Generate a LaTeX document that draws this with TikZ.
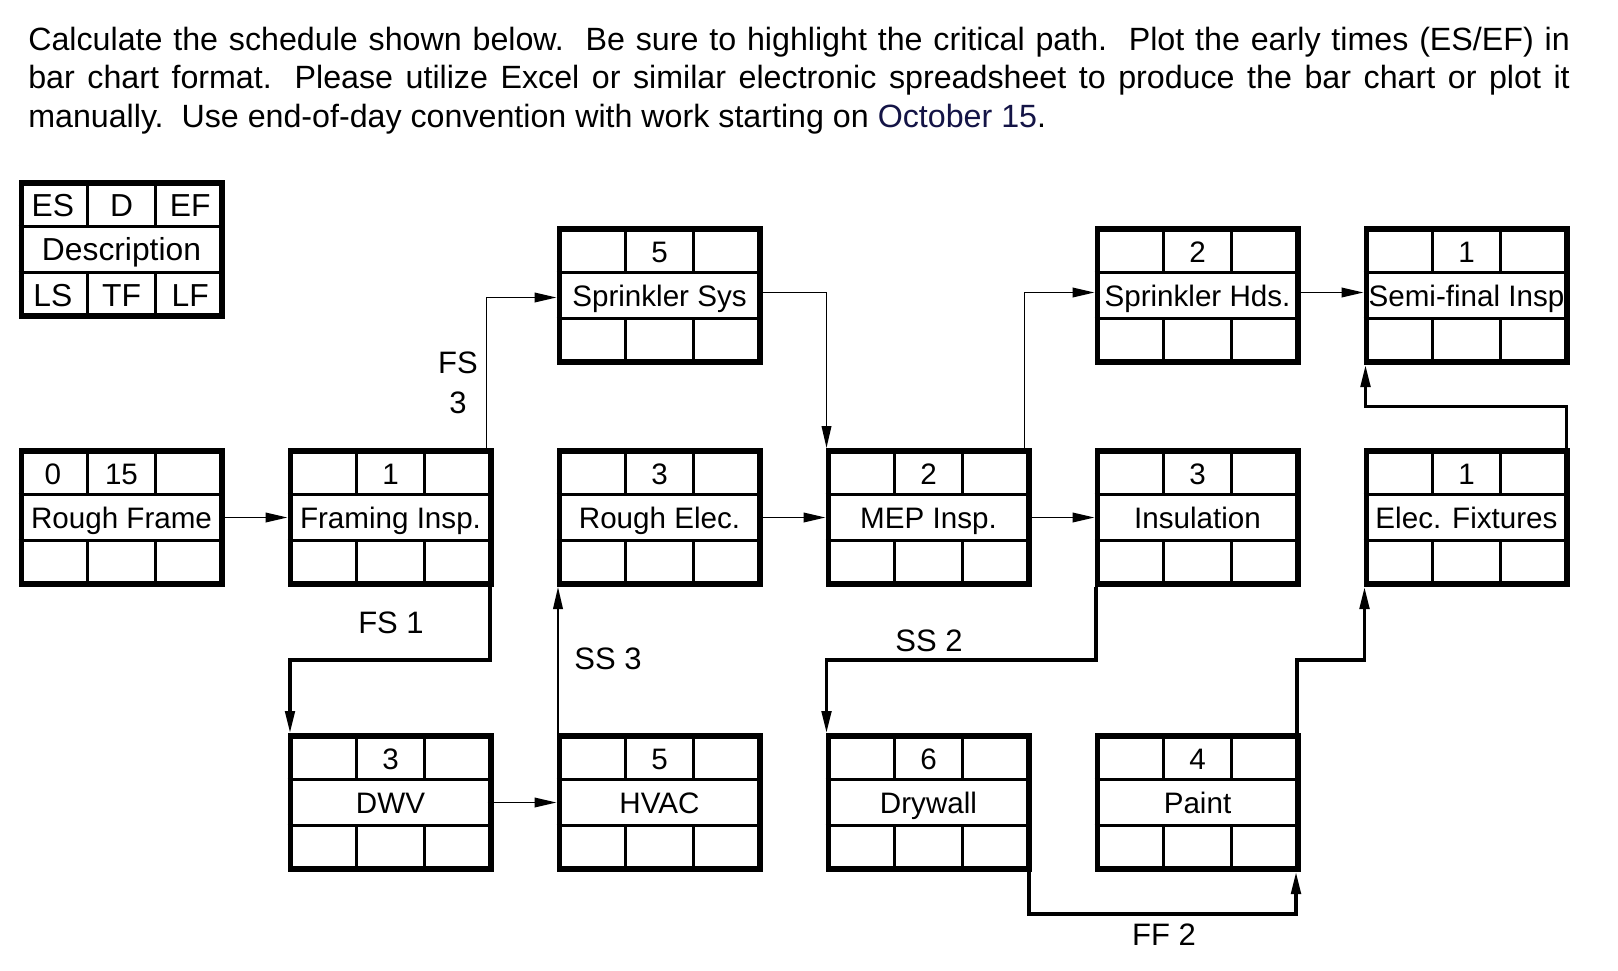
\documentclass[tikz,border=0pt]{standalone}
\usepackage{fontspec}
\setmainfont{Liberation Sans}
\usetikzlibrary{arrows.meta,calc}
\definecolor{navytext}{RGB}{20,20,70}
\tikzset{
  boxframe/.style={draw, line width=2.85pt, minimum width=100.15pt, minimum height=66.65pt, inner sep=0pt, outer sep=1.425pt},
  cellline/.style={line width=1.35pt},
  celltext/.style={anchor=base, inner sep=0pt, font=\fontsize{14.8pt}{16pt}\selectfont},
  legtext/.style={anchor=base, inner sep=0pt, font=\fontsize{15.9pt}{17pt}\selectfont},
  lbl/.style={anchor=center, inner sep=0pt, font=\fontsize{15.5pt}{17pt}\selectfont},
  hdr/.style={anchor=base west, inner sep=0pt, font=\fontsize{16.1pt}{19pt}\selectfont},
  tip/.style={-{Triangle[length=11pt,width=4.8pt]}},
  conn/.style={line width=0.9pt, tip},
  connthick/.style={line width=1.6pt, tip},
}
\newcommand\actgrid[3]{%
  \begin{scope}[shift={(#2,#3)}]
    \draw[cellline] (0,46.33) -- (206,46.33) (0,92.67) -- (206,92.67)
      (68.67,0) -- (68.67,46.33) (137.33,0) -- (137.33,46.33)
      (68.67,92.67) -- (68.67,139) (137.33,92.67) -- (137.33,139);
    \node[boxframe] (#1) at (103,69.5) {};
    \coordinate (#1-a1) at (34.33,36.5);
    \coordinate (#1-a2) at (103,36.5);
    \coordinate (#1-a3) at (171.67,36.5);
    \coordinate (#1-b) at (103,80.5);
    \coordinate (#1-c1) at (34.33,126.3);
    \coordinate (#1-c2) at (103,126.3);
    \coordinate (#1-c3) at (171.67,126.3);
  \end{scope}}
\begin{document}
\begin{tikzpicture}[x=0.5pt, y=-0.5pt]
\useasboundingbox (0,0) rectangle (1618,970);

% header
\node[hdr] (h1) at (27.9,50) {\makebox[770.8pt][s]{Calculate the schedule shown below.\ \ Be sure to highlight the critical path.\ \ Plot the early times (ES/EF) in}};
\node[hdr] (h2) at (27.9,88.7) {\makebox[770.8pt][s]{bar chart format. Please utilize Excel or similar electronic spreadsheet to produce the bar chart or plot it}};
\node[hdr] (h3) at (27.9,127.4) {manually.\ \ Use end-of-day convention with work starting on {\color{navytext}October 15}.};

% legend
\actgrid{leg}{18.5}{180}
\node[legtext] (leg-es) at (leg-a1) {ES};
\node[legtext] (leg-d) at (leg-a2) {D};
\node[legtext] (leg-ef) at (leg-a3) {EF};
\node[legtext] (leg-desc) at (leg-b) {Description};
\node[legtext] (leg-ls) at (leg-c1) {LS};
\node[legtext] (leg-tf) at (leg-c2) {TF};
\node[legtext] (leg-lf) at (leg-c3) {LF};

% activities
\actgrid{ss}{556.5}{226}
\node[celltext] (ss-d) at (ss-a2) {5};
\node[celltext] (ss-t) at (ss-b) {Sprinkler Sys};
\actgrid{sh}{1094.5}{226}
\node[celltext] (sh-d) at (sh-a2) {2};
\node[celltext] (sh-t) at (sh-b) {Sprinkler Hds.};
\actgrid{sf}{1363.5}{226}
\node[celltext] (sf-d) at (sf-a2) {1};
\node[celltext] (sf-t) at (sf-b) {Semi-final Insp};

\actgrid{rf}{18.5}{448}
\node[celltext] (rf-es) at (rf-a1) {0};
\node[celltext] (rf-d) at (rf-a2) {15};
\node[celltext] (rf-t) at (rf-b) {Rough Frame};
\actgrid{fi}{287.5}{448}
\node[celltext] (fi-d) at (fi-a2) {1};
\node[celltext] (fi-t) at (fi-b) {Framing Insp.};
\actgrid{re}{556.5}{448}
\node[celltext] (re-d) at (re-a2) {3};
\node[celltext] (re-t) at (re-b) {Rough Elec.};
\actgrid{mep}{825.5}{448}
\node[celltext] (mep-d) at (mep-a2) {2};
\node[celltext] (mep-t) at (mep-b) {MEP Insp.};
\actgrid{ins}{1094.5}{448}
\node[celltext] (ins-d) at (ins-a2) {3};
\node[celltext] (ins-t) at (ins-b) {Insulation};
\actgrid{ef}{1363.5}{448}
\node[celltext] (ef-d) at (ef-a2) {1};
\node[celltext] (ef-t) at (ef-b) {Elec. Fixtures};

\actgrid{dwv}{287.5}{733}
\node[celltext] (dwv-d) at (dwv-a2) {3};
\node[celltext] (dwv-t) at (dwv-b) {DWV};
\actgrid{hvac}{556.5}{733}
\node[celltext] (hvac-d) at (hvac-a2) {5};
\node[celltext] (hvac-t) at (hvac-b) {HVAC};
\actgrid{dw}{825.5}{733}
\node[celltext] (dw-d) at (dw-a2) {6};
\node[celltext] (dw-t) at (dw-b) {Drywall};
\actgrid{pt}{1094.5}{733}
\node[celltext] (pt-d) at (pt-a2) {4};
\node[celltext] (pt-t) at (pt-b) {Paint};

% helper coordinates (midway between rows)
\coordinate (m1) at ($(sf.south west)!.5!(ef.north west)$);
\coordinate (m2) at ($(fi.south west)!.5!(dwv.north west)$);
\coordinate (m3) at ($(mep.south west)!.5!(dw.north west)$);
\coordinate (m4) at ($(ins.south east)!.5!(pt.north east)$);
\coordinate (ff) at ([yshift=-21pt]pt.south east);

% connectors
\draw[conn] (rf.east) -- (fi.west);
\draw[conn] ([xshift=-3.5pt]fi.north east) |- ([yshift=-1pt]ss.west);
\draw[conn] ([yshift=1.5pt]ss.east) -| ([xshift=0.5pt]mep.north west);
\draw[conn] (re.east) -- (mep.west);
\draw[conn] ([xshift=-3.5pt]mep.north east) |- ([yshift=1.5pt]sh.west);
\draw[conn] (mep.east) -- (ins.west);
\draw[conn] ([yshift=1.5pt]sh.east) -- ([yshift=1.5pt]sf.west);
\draw[connthick] ([xshift=-1.5pt]ef.north east) |- ([xshift=1pt]m1) -- ([xshift=1pt]sf.south west);
\draw[connthick] ([xshift=-1.75pt]fi.south east) |- ([xshift=1.25pt]m2) -- ([xshift=1.25pt]dwv.north west);
\draw[conn] ([xshift=-3pt]dwv.east) -- (hvac.west);
\draw[conn] ([xshift=0.75pt]hvac.north west) -- ([xshift=0.75pt]re.south west);
\draw[connthick] ([xshift=0.75pt]ins.south west) |- ([xshift=0.5pt]m3) -- ([xshift=0.5pt]dw.north west);
\draw[connthick] ([xshift=-1.75pt]pt.north east) -- ([xshift=-1.75pt]m4) -| ([xshift=0.5pt]ef.south west);
\draw[connthick] ([xshift=-1.25pt]dw.south east) |- ([xshift=-2.25pt]ff) -- ([xshift=-2.25pt]pt.south east);

% relationship labels
\node[lbl] (l-fs) at (458,363) {FS};
\node[lbl] (l-fs3) at (458,402.5) {3};
\node[lbl] (l-fs1) at (391,623) {FS 1};
\node[lbl] (l-ss3) at (608,659) {SS 3};
\node[lbl] (l-ss2) at (929,641) {SS 2};
\node[lbl] (l-ff2) at (1164,935) {FF 2};
\end{tikzpicture}
\end{document}
